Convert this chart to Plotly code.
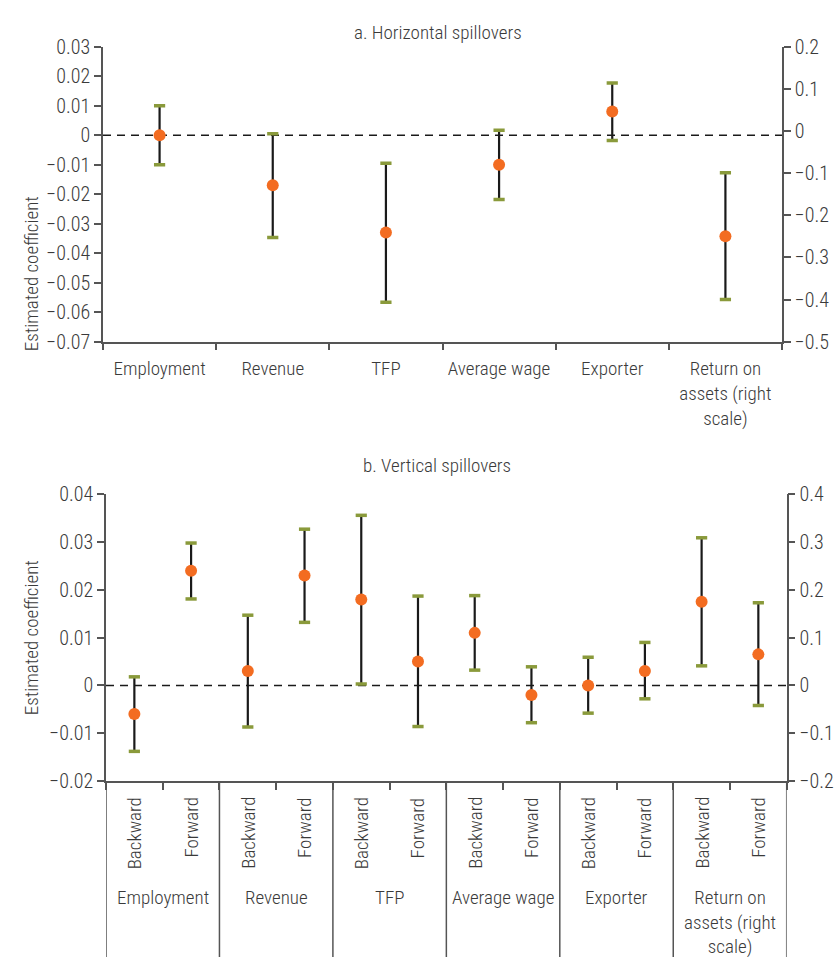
import plotly.graph_objects as go

W, H = 838, 957
FONT = "Roboto Condensed, Liberation Sans, Arial, sans-serif"
TXT = "#3a3a3a"
AX = "#555555"
ORANGE = "#F36C21"
GREEN = "#8A9A3B"

# ---------------- Panel a: horizontal spillovers ----------------
h_categories = ["Employment", "Revenue", "TFP", "Average wage", "Exporter",
                "Return on<br>assets (right<br>scale)"]
h_est = [0.0, -0.017, -0.033, -0.010, 0.008]
h_upper = [0.010, 0.0005, -0.0095, 0.0017, 0.0177]
h_lower = [-0.010, -0.0347, -0.0566, -0.0218, -0.0018]
h_roa_est = [-0.250]
h_roa_upper = [-0.099]
h_roa_lower = [-0.400]

# ---------------- Panel b: vertical spillovers ----------------
v_groups = ["Employment", "Revenue", "TFP", "Average wage", "Exporter",
            "Return on<br>assets (right<br>scale)"]
v_subs = ["Backward", "Forward"]
v_est = [-0.006, 0.024, 0.003, 0.023, 0.018, 0.005, 0.011, -0.002, 0.0, 0.003]
v_upper = [0.0018, 0.0298, 0.0147, 0.0327, 0.0356, 0.0187, 0.0188, 0.0039, 0.0059, 0.0090]
v_lower = [-0.0138, 0.0181, -0.0087, 0.0132, 0.0003, -0.0086, 0.0032, -0.0078, -0.0058, -0.0028]
v_roa_est = [0.175, 0.065]
v_roa_upper = [0.309, 0.173]
v_roa_lower = [0.041, -0.042]

fig = go.Figure()


def add_series(x, est, lo, hi, xaxis, yaxis):
    sx, sy = [], []
    for xi, l, h in zip(x, lo, hi):
        sx += [xi, xi, None]
        sy += [l, h, None]
    fig.add_trace(go.Scatter(x=sx, y=sy, mode="lines", xaxis=xaxis, yaxis=yaxis,
                             line=dict(color="#1a1a1a", width=2.2), showlegend=False,
                             hoverinfo="skip"))
    fig.add_trace(go.Scatter(x=list(x) + list(x), y=list(lo) + list(hi), mode="markers",
                             xaxis=xaxis, yaxis=yaxis, showlegend=False,
                             marker=dict(symbol="line-ew", size=8,
                                         line=dict(color=GREEN, width=3.5))))
    fig.add_trace(go.Scatter(x=list(x), y=list(est), mode="markers", xaxis=xaxis, yaxis=yaxis,
                             showlegend=False,
                             marker=dict(color=ORANGE, size=12, line=dict(width=0))))


# panel a traces
add_series(h_categories[:5], h_est, h_lower, h_upper, "x", "y")
add_series(h_categories[5:], h_roa_est, h_roa_lower, h_roa_upper, "x", "y2")

# panel b traces
n_sub = len(v_subs)
v_pos = [g * n_sub + s for g in range(len(v_groups)) for s in range(n_sub)]
add_series(v_pos[:10], v_est, v_lower, v_upper, "x2", "y3")
add_series(v_pos[10:], v_roa_est, v_roa_lower, v_roa_upper, "x2", "y4")

ytickfont = dict(family=FONT, size=20, color=TXT, weight=300)
xtickfont = dict(family=FONT, size=19, color=TXT, weight=300)

top_x = [103 / W, 782 / W]
top_y = [1 - 341.7 / H, 1 - 46.7 / H]
bot_x = [106 / W, 786.7 / W]
bot_y = [1 - 781 / H, 1 - 494.3 / H]

n_bot = len(v_pos)
bounds = [i - 0.5 for i in range(n_bot + 1)]
group_bounds = [g * n_sub - 0.5 for g in range(len(v_groups) + 1)]

common_y = dict(ticks="outside", ticklen=7, tickwidth=1.5, tickcolor=AX, showline=True,
                linecolor=AX, linewidth=1.5, showgrid=False, zeroline=False,
                tickfont=ytickfont, automargin=False)

fig.update_layout(
    template="none",
    width=W, height=H,
    margin=dict(l=0, r=0, t=0, b=0),
    paper_bgcolor="white", plot_bgcolor="white",
    font=dict(family=FONT, color=TXT),
    xaxis=dict(domain=top_x, anchor="y", type="category",
               categoryorder="array", categoryarray=h_categories,
               range=[-0.5, 5.5], tickson="boundaries", ticks="outside", ticklen=7,
               tickwidth=1.5, tickcolor=AX, showline=True, linecolor=AX, linewidth=1.5,
               showgrid=False, zeroline=False, tickfont=xtickfont, tickangle=0,
               ticklabelstandoff=9, automargin=False),
    yaxis=dict(domain=top_y, anchor="x", range=[-0.07, 0.03], dtick=0.01,
               tickformat=".2~f", **common_y),
    yaxis2=dict(overlaying="y", anchor="x", side="right", range=[-0.5, 0.2], dtick=0.1,
                tickformat=".1~f", **common_y),
    xaxis2=dict(domain=bot_x, anchor="y3", range=[-0.5, n_bot - 0.5],
                tickvals=bounds, ticktext=[""] * len(bounds), ticks="outside", ticklen=7,
                tickwidth=1.5, tickcolor=AX, showline=True, linecolor=AX, linewidth=1.5,
                showgrid=False, zeroline=False, automargin=False),
    yaxis3=dict(domain=bot_y, anchor="x2", range=[-0.02, 0.04], dtick=0.01,
                tickformat=".2~f", **common_y),
    yaxis4=dict(overlaying="y3", anchor="x2", side="right", range=[-0.2, 0.4], dtick=0.1,
                tickformat=".1~f", **common_y),
)

# zero reference lines
for xr, yr in [("x domain", "y"), ("x2 domain", "y3")]:
    fig.add_shape(type="line", xref=xr, yref=yr, x0=0, x1=1, y0=0, y1=0,
                  line=dict(color="#1a1a1a", width=1.5, dash="8px,6px"), layer="below")

# long group separators below panel b
for b in group_bounds:
    fig.add_shape(type="line", xref="x2", yref="paper", x0=b, x1=b, y0=0, y1=bot_y[0],
                  line=dict(color=AX, width=1.5))

lab = dict(family=FONT, color=TXT, weight=300)
ann = []
ann.append(dict(text="a. Horizontal spillovers", x=438 / W, y=1 - 19 / H, xref="paper",
                yref="paper", showarrow=False, font=dict(size=19, **lab)))
ann.append(dict(text="b. Vertical spillovers", x=437 / W, y=1 - 466 / H, xref="paper",
                yref="paper", showarrow=False, font=dict(size=19, **lab)))
for yc in [(46.7 + 341.7) / 2, (494.3 + 781) / 2]:
    ann.append(dict(text="Estimated coefficient", x=18 / W, y=1 - yc / H, xref="paper",
                    yref="paper", textangle=-90, showarrow=False,
                    font=dict(size=19, **lab)))
for g, grp in enumerate(v_groups):
    for s, sub in enumerate(v_subs):
        ann.append(dict(text=sub, x=g * n_sub + s, xref="x2", y=1 - 795 / H, yref="paper",
                        yanchor="top", textangle=-90, showarrow=False,
                        font=dict(size=19, **lab)))
    ann.append(dict(text=grp, x=g * n_sub + 0.5, xref="x2", y=1 - 884 / H, yref="paper",
                    yanchor="top", showarrow=False, font=dict(size=19, **lab)))
fig.update_layout(annotations=ann)

fig.write_html("out.html", config={"displayModeBar": False},
               post_script="document.body.style.margin='0px';"
                           "document.body.style.overflow='hidden';")
